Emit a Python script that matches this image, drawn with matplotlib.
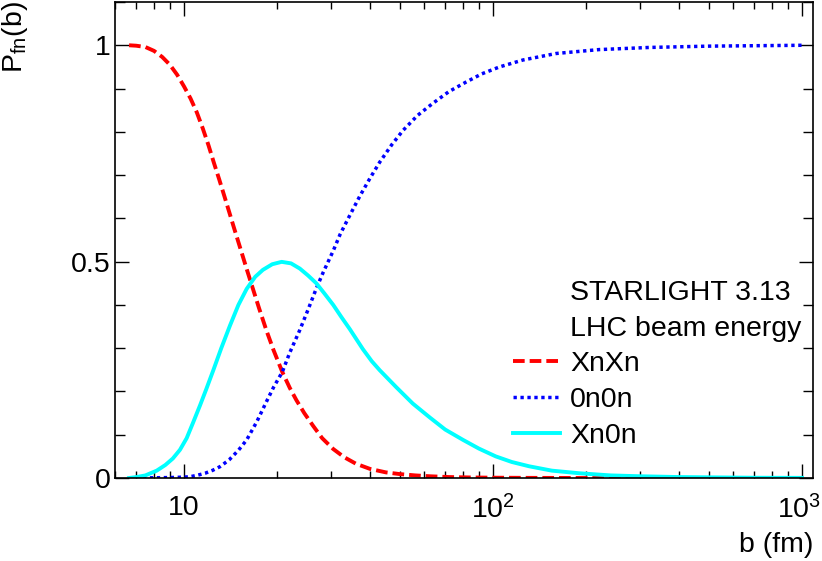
"""
Fragment-neutron probabilities versus impact parameter (STARLIGHT 3.13, LHC).

Curves are read off the reference plot and drawn on a log b axis in a
ROOT-like style: inward ticks on all four sides, Helvetica-like text.
"""

import matplotlib

matplotlib.use("Agg")
from matplotlib import pyplot as plt
from matplotlib.lines import Line2D
from matplotlib.ticker import FixedLocator, LogLocator, NullFormatter
from matplotlib.transforms import ScaledTranslation

# impact parameter b (fm) and probabilities
b_xnxn = [6.64, 7.0, 7.5, 8.0, 8.5, 9.0, 9.5, 10.0, 10.5, 11.0, 11.5, 12.0,
          12.5, 13.0, 13.5, 14.0, 14.5, 15.0, 15.5, 16.0, 16.75, 17.5, 18.5,
          19.5, 20.8, 22.0, 23.1, 24.5, 26.2, 28.0, 30.4, 33.0, 36.0, 40.0,
          45.0, 50.0, 56.0, 62.4, 72.0, 85.0, 100, 130, 200, 1000]
p_xnxn = [1.0, 0.999, 0.996, 0.987, 0.973, 0.955, 0.932, 0.905, 0.877, 0.845,
          0.808, 0.769, 0.728, 0.690, 0.652, 0.615, 0.579, 0.545, 0.512, 0.480,
          0.435, 0.392, 0.340, 0.295, 0.245, 0.208, 0.180, 0.150, 0.120, 0.092,
          0.067, 0.048, 0.033, 0.021, 0.013, 0.009, 0.006, 0.004, 0.0022,
          0.0012, 0.0007, 0.0003, 0.0, 0.0]

b_0n0n = [6.64, 8.0, 9.0, 10.0, 10.45, 11.0, 11.7, 12.4, 13.06, 14.0, 15.0,
          15.95, 17.2, 18.5, 19.5, 20.8, 22.0, 23.7, 25.2, 26.8, 28.2, 30.4,
          32.0, 34.0, 37.1, 40.0, 43.0, 47.0, 51.1, 57.0, 63.9, 72.0, 81.8,
          92.0, 105, 125, 160, 220, 321, 500, 1000]
p_0n0n = [0.0, 0.0005, 0.001, 0.002, 0.003, 0.006, 0.011, 0.018, 0.026, 0.042,
          0.064, 0.088, 0.130, 0.177, 0.210, 0.245, 0.290, 0.342, 0.389, 0.438,
          0.475, 0.525, 0.563, 0.600, 0.652, 0.693, 0.730, 0.770, 0.803, 0.838,
          0.866, 0.893, 0.915, 0.934, 0.950, 0.966, 0.981, 0.990, 0.995, 0.998,
          1.0]

b_xn0n = [6.64, 7.0, 7.5, 8.16, 8.7, 9.2, 9.7, 10.2, 10.7, 11.27, 11.8, 12.44,
          13.2, 14.08, 15.0, 15.95, 17.0, 18.0, 19.3, 20.7, 22.2, 23.7, 25.2,
          26.8, 28.5, 30.4, 32.3, 34.4, 37.9, 40.5, 43.0, 48.6, 55.0, 62.4,
          70.0, 80.0, 90.0, 102, 115, 131, 155, 190, 240, 300, 400, 500, 700,
          1000]
p_xn0n = [0.0, 0.002, 0.006, 0.017, 0.030, 0.045, 0.065, 0.092, 0.128, 0.168,
          0.205, 0.249, 0.300, 0.352, 0.400, 0.437, 0.465, 0.481, 0.494, 0.4995,
          0.496, 0.484, 0.468, 0.450, 0.426, 0.400, 0.372, 0.344, 0.298, 0.270,
          0.249, 0.210, 0.172, 0.140, 0.112, 0.088, 0.068, 0.050, 0.037, 0.027,
          0.017, 0.011, 0.006, 0.004, 0.0022, 0.0015, 0.0006, 0.0003]

x_major = [10, 100, 1000]
x_major_labels = ["10", r"$\mathregular{10^{2}}$", r"$\mathregular{10^{3}}$"]
y_major = [0, 0.5, 1]
y_major_labels = ["0", "0.5", "1"]
legend_header = ["STARLIGHT 3.13", "LHC beam energy"]

plt.rcParams["font.family"] = ["Liberation Sans", "DejaVu Sans"]
plt.rcParams["mathtext.fontset"] = "custom"
plt.rcParams["mathtext.rm"] = "Liberation Sans"
plt.rcParams["lines.scale_dashes"] = False

FS = 20.5
fig = plt.figure(figsize=(8.22, 5.61), dpi=100)
W, H = 822, 561
ax = fig.add_axes([115 / W, 1 - 478 / H, (813 - 115) / W, (478 - 2) / H])

lw = 2.8
(l_xnxn,) = ax.plot(b_xnxn, p_xnxn, color="#ff0000", lw=lw,
                    dashes=(8.4, 3.6), dash_capstyle="butt", label="XnXn")
(l_0n0n,) = ax.plot(b_0n0n, p_0n0n, color="#0000ff", lw=lw - 0.3,
                    dashes=(2.4, 2.6), dash_capstyle="butt", label="0n0n")
(l_xn0n,) = ax.plot(b_xn0n, p_xn0n, color="#00ffff", lw=lw, label="Xn0n")

ax.set_xscale("log")
ax.set_xlim(5.98, 1085)
ax.set_ylim(0, 1.1)

ax.xaxis.set_major_locator(FixedLocator(x_major))
ax.set_xticklabels(x_major_labels)
ax.xaxis.set_minor_locator(LogLocator(base=10, subs=range(2, 10)))
ax.xaxis.set_minor_formatter(NullFormatter())
ax.yaxis.set_major_locator(FixedLocator(y_major))
ax.set_yticklabels(y_major_labels)
ax.yaxis.set_minor_locator(FixedLocator([i / 10 for i in range(0, 12)]))

for spine in ax.spines.values():
    spine.set_linewidth(1.2)

ax.tick_params(axis="both", which="both", direction="in", top=True,
               right=True, width=1.0, labelsize=FS, colors="black")
ax.tick_params(axis="x", which="major", length=10, pad=12)
ax.tick_params(axis="x", which="minor", length=5)
ax.tick_params(axis="y", which="major", length=10, pad=3)
ax.tick_params(axis="y", which="minor", length=7.5)

# keep the 10^3 label inside the canvas
last = ax.get_xticklabels()[-1]
last.set_transform(last.get_transform()
                   + ScaledTranslation(-0.03, 0, fig.dpi_scale_trans))

# axis titles, ROOT puts them at the far end of each axis
fig.text(813 / W, 1 - 545 / H, "b (fm)", fontsize=FS, ha="right",
         va="center")
fig.text(15 / W, 1 - 1 / H, r"P$_{\mathregular{fn}}$(b)", fontsize=FS,
         rotation=90, ha="center", va="top")

# legend: two header lines without a sample, then the three curves
blank = [Line2D([], [], color="none") for _ in legend_header]
ax.legend(blank + [l_xnxn, l_0n0n, l_xn0n],
          legend_header + ["XnXn", "0n0n", "Xn0n"],
          loc="upper left", bbox_to_anchor=(513 / W, 1 - 280 / H),
          bbox_transform=fig.transFigure, frameon=False, fontsize=FS,
          handlelength=1.65, handletextpad=0.35, labelspacing=0.34,
          borderpad=0, borderaxespad=0)

fig.savefig("out.png", dpi=100)
